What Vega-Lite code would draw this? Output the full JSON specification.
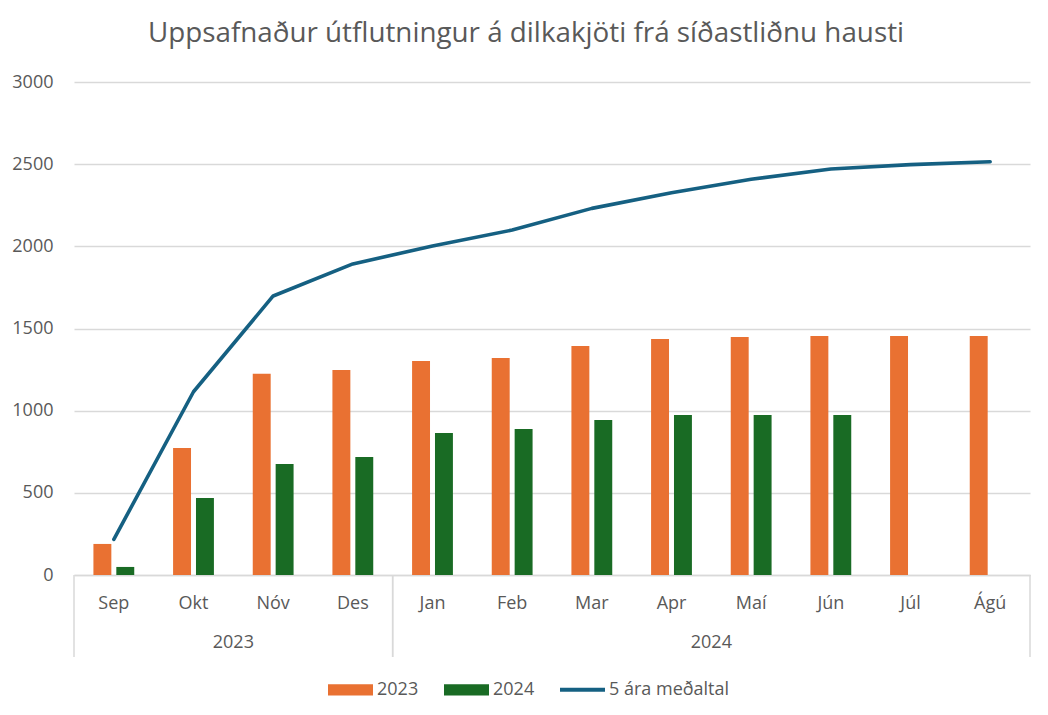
{
  "$schema": "https://vega.github.io/schema/vega-lite/v6.json",
  "width": 956,
  "height": 493,
  "autosize": {"type": "none"},
  "padding": {"left": 74, "top": 82, "right": 18, "bottom": 140},
  "background": "white",
  "title": {
    "text": "Uppsafnaður útflutningur á dilkakjöti frá síðastliðnu hausti",
    "fontSize": 27.8,
    "font": "Open Sans",
    "fontWeight": "normal",
    "color": "#595959",
    "anchor": "middle",
    "dx": -26,
    "offset": 25
  },
  "datasets": {
    "series": [
      {"month": "Sep", "series": "2023", "value": 189},
      {"month": "Okt", "series": "2023", "value": 773},
      {"month": "Nóv", "series": "2023", "value": 1225},
      {"month": "Des", "series": "2023", "value": 1247},
      {"month": "Jan", "series": "2023", "value": 1302},
      {"month": "Feb", "series": "2023", "value": 1321},
      {"month": "Mar", "series": "2023", "value": 1393},
      {"month": "Apr", "series": "2023", "value": 1436},
      {"month": "Maí", "series": "2023", "value": 1448},
      {"month": "Jún", "series": "2023", "value": 1454},
      {"month": "Júl", "series": "2023", "value": 1454},
      {"month": "Ágú", "series": "2023", "value": 1454},
      {"month": "Sep", "series": "2024", "value": 49},
      {"month": "Okt", "series": "2024", "value": 469},
      {"month": "Nóv", "series": "2024", "value": 675},
      {"month": "Des", "series": "2024", "value": 718},
      {"month": "Jan", "series": "2024", "value": 864},
      {"month": "Feb", "series": "2024", "value": 888},
      {"month": "Mar", "series": "2024", "value": 943},
      {"month": "Apr", "series": "2024", "value": 974},
      {"month": "Maí", "series": "2024", "value": 974},
      {"month": "Jún", "series": "2024", "value": 974},
      {"month": "Sep", "series": "5 ára meðaltal", "value": 217},
      {"month": "Okt", "series": "5 ára meðaltal", "value": 1115},
      {"month": "Nóv", "series": "5 ára meðaltal", "value": 1698},
      {"month": "Des", "series": "5 ára meðaltal", "value": 1893},
      {"month": "Jan", "series": "5 ára meðaltal", "value": 2002},
      {"month": "Feb", "series": "5 ára meðaltal", "value": 2099},
      {"month": "Mar", "series": "5 ára meðaltal", "value": 2231},
      {"month": "Apr", "series": "5 ára meðaltal", "value": 2326},
      {"month": "Maí", "series": "5 ára meðaltal", "value": 2408},
      {"month": "Jún", "series": "5 ára meðaltal", "value": 2471},
      {"month": "Júl", "series": "5 ára meðaltal", "value": 2497},
      {"month": "Ágú", "series": "5 ára meðaltal", "value": 2515}
    ],
    "groups": [
      {"year": "2023", "first": "Sep", "mid": "Okt", "last": "Des"},
      {"year": "2024", "first": "Jan", "mid": "Apr", "last": "Ágú"}
    ]
  },
  "layer": [
    {
      "data": {"name": "series"},
      "transform": [{"filter": "datum.series !== '5 ára meðaltal'"}],
      "mark": {"type": "bar"},
      "encoding": {
        "x": {
          "field": "month",
          "type": "nominal",
          "title": null,
          "scale": {
            "domain": ["Sep", "Okt", "Nóv", "Des", "Jan", "Feb", "Mar", "Apr", "Maí", "Jún", "Júl", "Ágú"],
            "paddingInner": 0,
            "paddingOuter": 0
          },
          "axis": {
            "title": null,
            "labelAngle": 0,
            "labelFont": "Open Sans",
            "labelFontSize": 18,
            "labelColor": "#595959",
            "labelPadding": 19,
            "ticks": false,
            "grid": false,
            "domainColor": "#d9d9d9",
            "domainWidth": 1.5
          }
        },
        "xOffset": {
          "field": "series",
          "type": "nominal",
          "scale": {"domain": ["2023", "2024"], "paddingInner": 0.217, "paddingOuter": 0.848}
        },
        "y": {
          "field": "value",
          "type": "quantitative",
          "title": null,
          "scale": {"domain": [0, 3000], "nice": false},
          "axis": {
            "title": null,
            "values": [0, 500, 1000, 1500, 2000, 2500, 3000],
            "format": "d",
            "labelFont": "Open Sans",
            "labelFontSize": 18,
            "labelColor": "#595959",
            "labelPadding": 21,
            "ticks": false,
            "domain": false,
            "gridColor": "#d9d9d9",
            "gridWidth": 1.4
          }
        },
        "color": {
          "field": "series",
          "type": "nominal",
          "scale": {
            "domain": ["2023", "2024", "5 ára meðaltal"],
            "range": ["#E97132", "#196B24", "#156082"]
          },
          "legend": {
            "orient": "none",
            "direction": "horizontal",
            "legendX": 254,
            "legendY": 585,
            "title": null,
            "labelFont": "Open Sans",
            "labelFontSize": 18,
            "labelColor": "#595959",
            "symbolSize": 2025,
            "columnPadding": 25,
            "labelOffset": 4,
            "padding": 0,
            "symbolStrokeWidth": 0,
            "symbolOpacity": 1,
            "encode": {
              "symbols": {
                "update": {
                  "shape": {"signal": "datum.value === '5 ára meðaltal' ? 'M-1,-0.09H1V0.09H-1Z' : 'M-1,-0.25H1V0.25H-1Z'"},
                  "fill": {"scale": "color", "field": "value"},
                  "opacity": {"value": 1}
                }
              }
            }
          }
        }
      }
    },
    {
      "data": {"name": "series"},
      "transform": [{"filter": "datum.series === '5 ára meðaltal'"}],
      "mark": {"type": "line", "strokeWidth": 3.6, "strokeCap": "round", "strokeJoin": "round"},
      "encoding": {
        "x": {"field": "month", "type": "nominal", "title": null},
        "y": {"field": "value", "type": "quantitative", "title": null},
        "color": {"field": "series", "type": "nominal"}
      }
    },
    {
      "data": {"name": "groups"},
      "mark": {"type": "rule", "color": "#d9d9d9", "strokeWidth": 1.5},
      "encoding": {
        "x": {"field": "first", "type": "nominal", "bandPosition": 0, "title": null},
        "y": {"value": 493},
        "y2": {"value": 575}
      }
    },
    {
      "data": {"name": "groups"},
      "mark": {"type": "rule", "color": "#d9d9d9", "strokeWidth": 1.5},
      "encoding": {
        "x": {"field": "last", "type": "nominal", "bandPosition": 1, "title": null},
        "y": {"value": 493},
        "y2": {"value": 575}
      }
    },
    {
      "data": {"name": "groups"},
      "mark": {"type": "text", "font": "Open Sans", "fontSize": 18, "color": "#595959", "baseline": "middle", "align": "center"},
      "encoding": {
        "x": {"field": "mid", "type": "nominal", "bandPosition": 1, "title": null},
        "y": {"value": 561},
        "text": {"field": "year"}
      }
    }
  ],
  "config": {
    "view": {"stroke": null},
    "font": "Open Sans"
  }
}
